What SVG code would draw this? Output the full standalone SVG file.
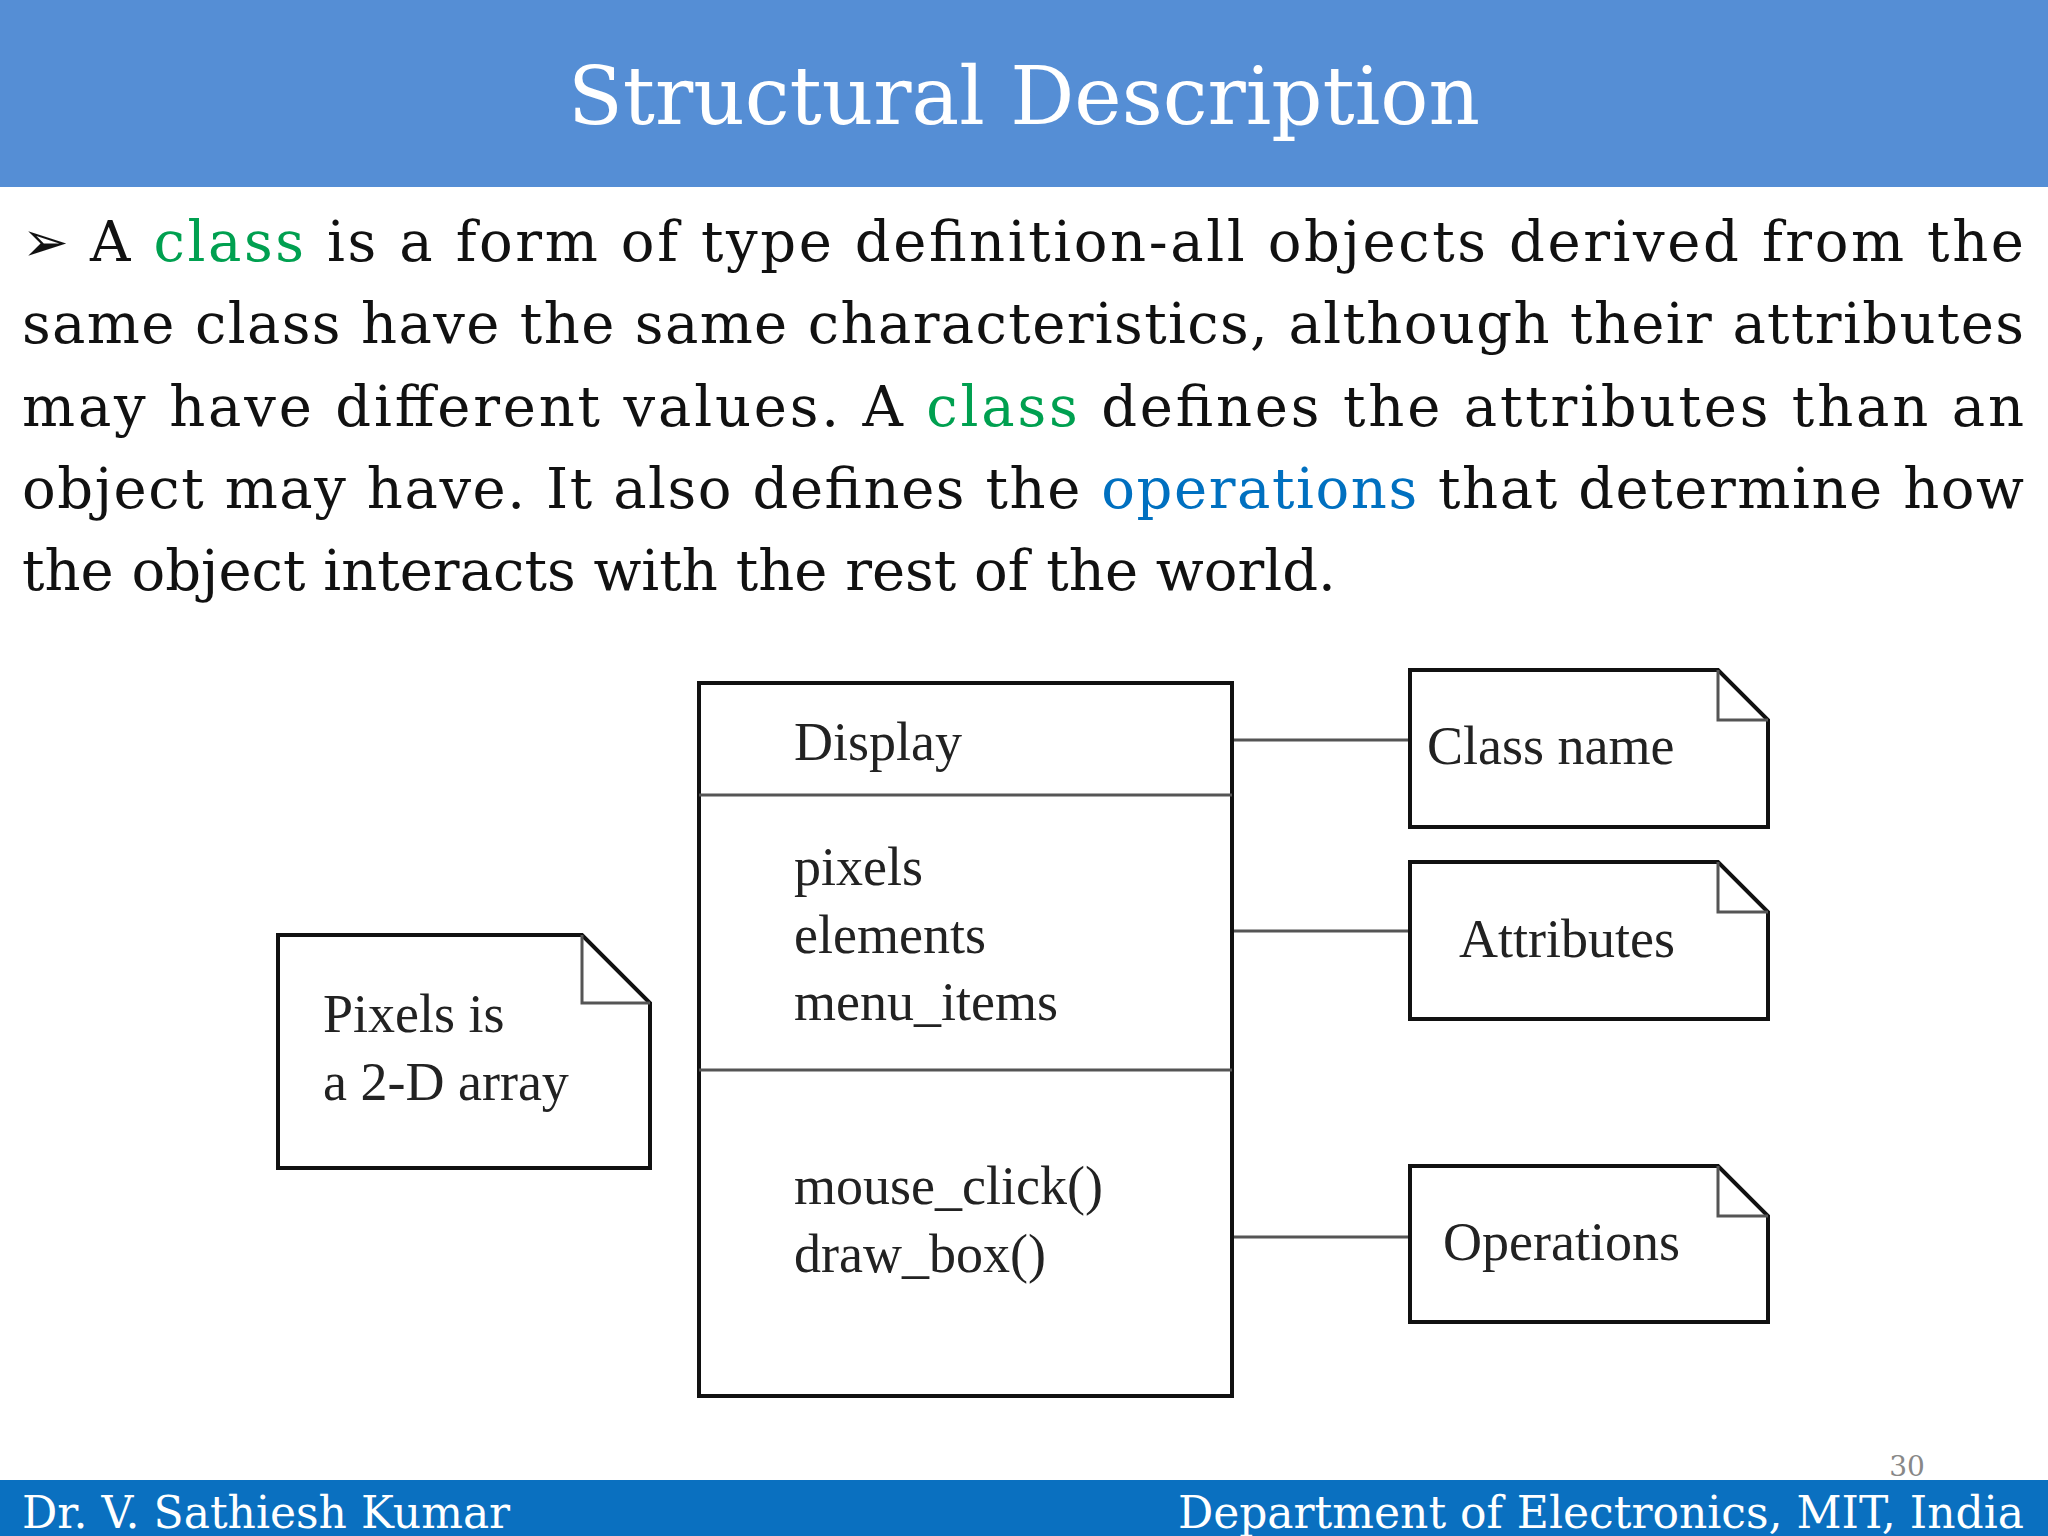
<svg xmlns="http://www.w3.org/2000/svg" width="2048" height="1536" viewBox="0 0 2048 1536">
<style>
.b{font-family:"DejaVu Serif","Liberation Serif",serif;font-size:56px;fill:#111}
.g{fill:#00a050}.bl{fill:#0070c0}
.d{font-family:"Liberation Serif",serif;font-size:54px;fill:#222}
.box{fill:#fff;stroke:#111;stroke-width:4}
.ln{stroke:#555;stroke-width:3;fill:none}
.f{font-family:"DejaVu Serif","Liberation Serif",serif;font-size:44px;fill:#fff}
</style>
<rect width="2048" height="1536" fill="#fff"/>
<rect width="2048" height="187" fill="#558ed5"/>
<text x="1024" y="124" text-anchor="middle" font-family="DejaVu Serif,Liberation Serif,serif" font-size="80" fill="#fff">Structural Description</text>
<g id="body">
<text class="b" x="22" y="261">➢</text>
<text class="b" x="90" y="261" textLength="1934" lengthAdjust="spacing">A <tspan class="g">class</tspan> is a form of type definition-all objects derived from the</text>
<text class="b" x="22" y="343" textLength="2002" lengthAdjust="spacing">same class have the same characteristics, although their attributes</text>
<text class="b" x="22" y="426" textLength="2002" lengthAdjust="spacing">may have different values. A <tspan class="g">class</tspan> defines the attributes than an</text>
<text class="b" x="22" y="508" textLength="2002" lengthAdjust="spacing">object may have. It also defines the <tspan class="bl">operations</tspan> that determine how</text>
<text class="b" x="22" y="590">the object interacts with the rest of the world.</text>
</g>
<g id="connectors">
<line class="ln" x1="1232" y1="740" x2="1410" y2="740"/>
<line class="ln" x1="1232" y1="931" x2="1410" y2="931"/>
<line class="ln" x1="1232" y1="1237" x2="1410" y2="1237"/>
</g>
<g id="class">
<rect class="box" x="699" y="683" width="533" height="713"/>
<line class="ln" x1="699" y1="795" x2="1232" y2="795"/>
<line class="ln" x1="699" y1="1070" x2="1232" y2="1070"/>
<text class="d" x="794" y="760">Display</text>
<text class="d" x="794" y="885">pixels</text>
<text class="d" x="794" y="953">elements</text>
<text class="d" x="794" y="1020">menu_items</text>
<text class="d" x="794" y="1204">mouse_click()</text>
<text class="d" x="794" y="1272">draw_box()</text>
</g>
<g id="note-classname">
<path class="box" d="M1410 670H1718L1768 720V827H1410Z"/><path class="ln" d="M1718 670V720H1768"/>
<text class="d" x="1427" y="764">Class name</text>
</g>
<g id="note-attributes">
<path class="box" d="M1410 862H1718L1768 912V1019H1410Z"/><path class="ln" d="M1718 862V912H1768"/>
<text class="d" x="1459" y="957">Attributes</text>
</g>
<g id="note-operations">
<path class="box" d="M1410 1166H1718L1768 1216V1322H1410Z"/><path class="ln" d="M1718 1166V1216H1768"/>
<text class="d" x="1443" y="1260">Operations</text>
</g>
<g id="note-pixels">
<path class="box" d="M278 935H582L650 1003V1168H278Z"/><path class="ln" d="M582 935V1003H650"/>
<text class="d" x="323" y="1032">Pixels is</text>
<text class="d" x="323" y="1100">a 2-D array</text>
</g>
<text x="1907" y="1476" font-family="DejaVu Serif,serif" font-size="28" fill="#888" text-anchor="middle">30</text>
<rect y="1480" width="2048" height="56" fill="#0a70c0"/>
<text class="f" x="22" y="1528">Dr. V. Sathiesh Kumar</text>
<text class="f" x="2024" y="1528" text-anchor="end">Department of Electronics, MIT, India</text>
</svg>
